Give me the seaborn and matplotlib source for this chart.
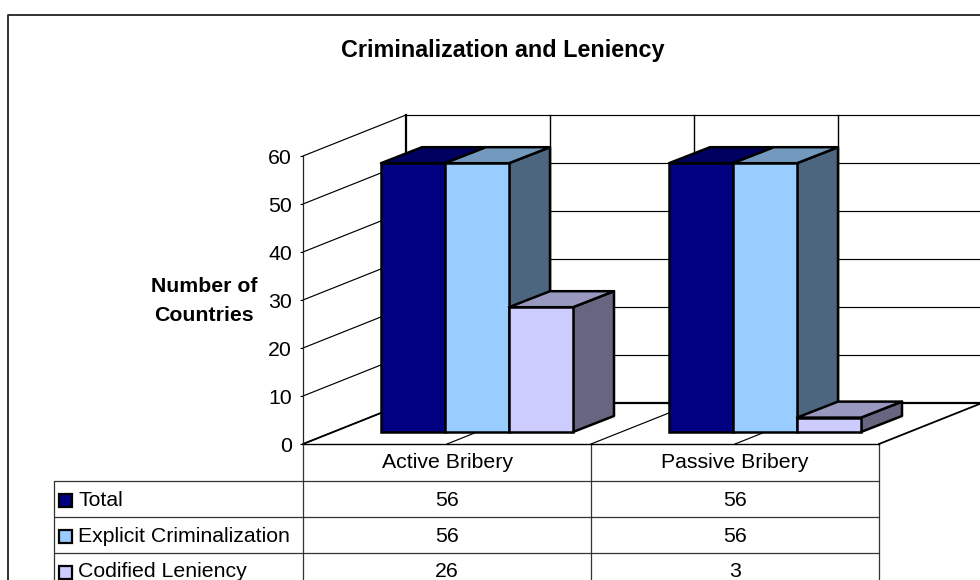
import matplotlib
matplotlib.use("Agg")
import matplotlib.pyplot as plt
from matplotlib.colors import to_rgb
from matplotlib.patches import Polygon, Rectangle
import pandas as pd
import seaborn as sns

categories = ["Active Bribery", "Passive Bribery"]
series_names = ["Total", "Explicit Criminalization", "Codified Leniency"]
total = [56, 56]
explicit = [56, 56]
leniency = [26, 3]
colors = ["#000080", "#99CCFF", "#CCCCFF"]
y_ticks = [0, 10, 20, 30, 40, 50, 60]
title = "Criminalization and Leniency"
y_label = "Number of\nCountries"

sns.set_theme(style="white", rc={"text.color": "black", "axes.labelcolor": "black",
                                 "xtick.color": "black", "ytick.color": "black"})
plt.rcParams["font.family"] = ["Liberation Sans", "DejaVu Sans"]

W, H = 980, 580
FS = 15.3
BAR_LW = 1.8
fig = plt.figure(figsize=(W / 100, H / 100), dpi=100)


def px_axes(left, top, right, bottom, **kw):
    return fig.add_axes([left / W, 1 - bottom / H, (right - left) / W, (bottom - top) / H], **kw)


# page overlay, in pixels, for frame and table
page = px_axes(0, 0, W, H, zorder=0)
page.set_xlim(0, W)
page.set_ylim(H, 0)
page.axis("off")

# front plane of the 3-D box: carries the value axis
front = px_axes(303, 156, 879, 444, zorder=1, facecolor="none")
front.set_xlim(-0.5, 1.5)
front.set_ylim(0, 60)
front.set_yticks(y_ticks)
front.set_xticks([])
front.tick_params(axis="y", length=2, width=0.8, pad=6, labelsize=FS, left=True)
for name, sp in front.spines.items():
    sp.set_visible(name == "left")
    sp.set_color("#222222")
    sp.set_linewidth(0.9)

u_x = 1 / 288          # categories per pixel
u_y = 60 / 288         # values per pixel
back_dx, back_dy = 103 * u_x, 41 * u_y
bar_dx, bar_dy = 41 * u_x, 16 * u_y

line = dict(color="black", clip_on=False, solid_capstyle="projecting")
for v in y_ticks:
    front.plot([-0.5, -0.5 + back_dx], [v, v + back_dy], lw=1.3 if v == 0 else 0.85, **line)
    front.plot([-0.5 + back_dx, 1.5 + back_dx], [v + back_dy] * 2, lw=1.6 if v == 0 else 0.85, **line)
for k in range(0, 5):
    xk = -0.5 + k * 0.5
    front.plot([xk, xk + back_dx], [0, back_dy], lw=1.3 if k == 4 else 0.85, **line)
    if k < 4:
        front.plot([xk + back_dx] * 2, [back_dy, 60 + back_dy], lw=1.6 if k == 0 else 1.0, **line)
front.plot([-0.5, 1.5], [0, 0], lw=1.0, **line)

# bars plane, same scale as the front plane, moved into the box
ax = px_axes(333, 144, 909, 432, zorder=2, facecolor="none")
df = pd.DataFrame({
    "category": categories * 3,
    "series": [s for s in series_names for _ in categories],
    "value": total + explicit + leniency,
})
sns.barplot(data=df, x="category", y="value", hue="series", order=categories,
            hue_order=series_names, palette=colors, width=2 / 3, gap=0, saturation=1,
            edgecolor="black", linewidth=BAR_LW, legend=False, ax=ax)
ax.set_xlim(-0.5, 1.5)
ax.set_ylim(0, 60)
ax.axis("off")

bars = [p for p in ax.patches if isinstance(p, Rectangle) and p.get_height() > 0]
bars = sorted(bars, key=lambda p: p.get_x())
edge = dict(edgecolor="black", linewidth=BAR_LW, clip_on=False, joinstyle="round")
for i, bar in enumerate(bars):
    x0, x1 = bar.get_x(), bar.get_x() + bar.get_width()
    h = bar.get_height()
    base = to_rgb(bar.get_facecolor())
    shade = lambda f: tuple(c * f for c in base)
    z = 3 + i
    ax.add_patch(Polygon([(x1, 0), (x1 + bar_dx, bar_dy), (x1 + bar_dx, h + bar_dy), (x1, h)],
                         facecolor=shade(0.5), zorder=z, **edge))
    ax.add_patch(Polygon([(x0, h), (x0 + bar_dx, h + bar_dy), (x1 + bar_dx, h + bar_dy), (x1, h)],
                         facecolor=shade(0.75), zorder=z, **edge))
    bar.set_zorder(z + 0.5)
    bar.set_clip_on(False)

# chart frame, title, axis title
page.plot([8, 8, W + 5], [H + 5, 15, 15], color="#222222", lw=1.3, clip_on=True)
page.text(502.5, 50.5, title, ha="center", va="center", fontsize=16.8, fontweight="bold")
page.text(204, 301, y_label, ha="center", va="center", fontsize=FS, fontweight="bold",
          linespacing=1.65)

# data table
tbl = dict(color="#333333", lw=0.9)
for x in [303, 591, 879]:
    page.plot([x, x], [444, H + 5], **tbl)
page.plot([54, 54], [481, H + 5], **tbl)
for y in [481, 517, 553]:
    page.plot([54, 879], [y, y], **tbl)
for i, name in enumerate(categories):
    cx = 447 + 288 * i
    page.text(cx, 463, name, ha="center", va="center", fontsize=FS)
rows = [total, explicit, leniency]
for r, (name, vals, col) in enumerate(zip(series_names, rows, colors)):
    cy = 500 + 36 * r
    ty = 501 + 35.2 * r
    page.add_patch(Rectangle((59, cy - 6.5), 13, 13, facecolor=col, edgecolor="black", lw=1.6))
    page.text(78, ty, name, ha="left", va="center", fontsize=FS)
    for i, v in enumerate(vals):
        page.text(447 + 288 * i, ty, str(v), ha="center", va="center", fontsize=FS)

fig.savefig("out.png", dpi=100)
